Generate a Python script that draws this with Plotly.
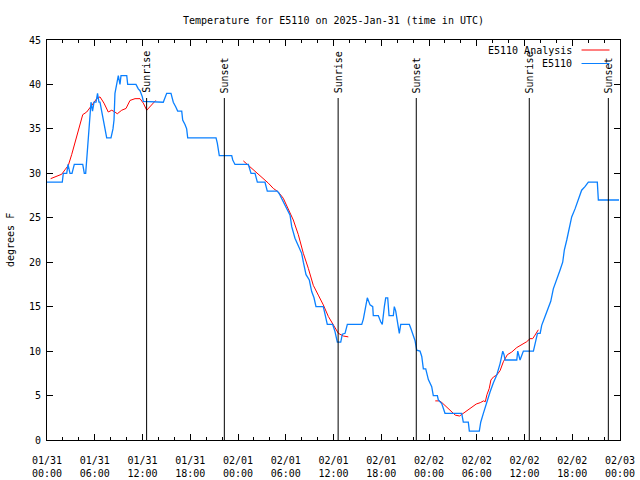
import pandas as pd
import plotly.graph_objects as go

BASE = pd.Timestamp("2025-01-31 00:00")

# E5110 observations (hours since 01/31 00:00 UTC, degrees F)
obs_hours = [0.00, 1.92, 2.05, 2.48, 2.64, 2.89, 3.14, 3.43, 4.49, 4.69, 4.86, 5.03, 5.21, 5.40,
             5.53, 5.72, 5.91, 6.16, 6.35, 6.53, 6.66, 6.87, 7.04, 7.29, 7.50, 8.04, 8.29, 8.42,
             8.54, 8.73, 8.96, 9.17, 9.30, 10.02, 10.14, 10.84, 11.18, 11.47, 11.69, 11.98, 12.10,
             14.61, 15.04, 15.58, 15.87, 16.17, 16.42, 16.93, 17.05, 17.34, 17.55, 17.68, 21.24,
             21.40, 21.65, 23.21, 23.34, 23.62, 25.30, 25.64, 26.14, 26.43, 27.39, 27.68, 28.94,
             29.19, 29.53, 29.91, 30.54, 30.75, 31.16, 31.79, 32.00, 32.21, 32.55, 32.96, 33.26,
             33.55, 33.80, 34.72, 34.93, 35.22, 35.90, 36.19, 36.48, 36.91, 37.11, 37.45, 37.74,
             39.55, 39.75, 39.96, 40.25, 40.59, 40.93, 41.00, 41.63, 41.93, 42.13, 42.39, 42.56,
             42.81, 42.98, 43.52, 43.64, 43.82, 44.07, 44.27, 44.45, 45.53, 45.70, 46.03, 46.24,
             46.46, 46.87, 47.09, 47.29, 47.59, 47.92, 48.34, 48.54, 49.05, 49.17, 49.60, 50.01,
             52.11, 52.31, 52.94, 53.07, 54.32, 54.50, 54.83, 55.25, 55.67, 56.08, 56.51, 56.93,
             57.27, 57.43, 57.56, 59.03, 59.15, 59.44, 59.86, 61.12, 61.34, 61.63, 61.97, 62.16,
             62.58, 63.00, 63.30, 63.62, 64.05, 64.46, 64.80, 65.01, 65.31, 65.63, 65.93, 66.35,
             66.76, 67.18, 67.60, 68.02, 69.15, 69.28, 71.88]
obs_temp = [29, 29, 30, 30, 31, 30, 30, 31, 31, 30, 30, 32, 35, 37,
            38, 37, 38, 38, 39, 38, 38, 37, 36, 35, 34, 34, 35, 36,
            39, 40, 41, 40, 41, 41, 40, 40, 40, 39.5, 39.3, 38.6, 38.1,
            38, 39, 39, 38, 37.5, 37, 37, 36, 35.5, 35, 34, 34,
            33.4, 32, 32, 31.5, 31, 31, 30, 30, 29, 29, 28, 28,
            27.7, 27, 26.4, 25.3, 24, 22.7, 21.4, 21, 20, 18.6, 18, 16.7,
            16, 15, 15, 14.2, 13, 13, 12.2, 11, 11, 11.9, 12, 13,
            13, 13.6, 14.8, 16, 15.2, 15, 14, 14, 13.3, 13, 15, 16,
            16, 14, 14, 15, 14.5, 12.9, 12, 13, 13, 12.6, 11.6, 11.2,
            10.1, 10, 9.4, 8, 8, 6.8, 6, 5, 5, 4.5, 4.1, 3,
            3, 2, 2, 1, 1, 2, 3, 4.3, 5.4, 6.4, 7.3, 8.6,
            10, 9.6, 9, 9, 10, 9, 10, 10, 11, 12, 12, 12.9,
            13.9, 15, 15.6, 17, 18.2, 19.1, 20, 21.4, 22.5, 24, 25.1, 26,
            27.1, 28.1, 28.5, 29, 29, 27, 27]

# E5110 Analysis (three segments, None marks the gaps)
ana_hours = [0.46, 1.01, 1.85, 2.26, 2.68, 3.10, 3.52, 4.06, 4.49, 4.99, 5.49, 5.94, 6.25, 6.66,
             7.16, 7.70, 8.13, 8.54, 8.83, 9.39, 9.93, 10.43, 11.06, 11.69, 12.10, 12.53, 13.16,
             13.66, None,
             24.67, 25.30, 25.92, 26.55, 27.18, 27.81, 28.44, 29.07, 29.69, 30.32, 30.95, 31.58,
             32.21, 32.84, 33.46, 34.09, 34.72, 35.35, 35.98, 36.40, 36.61, 37.03, 37.23, 37.86,
             None,
             48.79, 49.33, 49.63, 50.26, 50.76, 51.30, 51.84, 52.14, 52.77, 53.40, 53.94, 54.44,
             54.86, 55.07, 55.28, 55.57, 55.78, 56.11, 56.51, 56.93, 57.34, 57.85, 58.40, 59.03,
             59.65, 60.28, 60.69, 61.03, 61.32, 61.74]
ana_temp = [29.4, 29.6, 29.9, 30.4, 30.9, 32.1, 33.4, 35.2, 36.6, 36.9, 37.5, 38.1, 38.4, 38.6,
            37.9, 36.9, 37.1, 36.9, 36.7, 37.1, 37.3, 38.2, 38.4, 38.4, 37.9, 37.1, 37.7,
            38.2, None,
            31.4, 30.9, 30.5, 30.0, 29.4, 28.9, 28.3, 27.9, 27.2, 25.9, 24.75, 23.1,
            21.0, 19.3, 17.4, 16.3, 15.2, 13.9, 12.9, 12.4, 12.0, 11.8, 11.7, 11.6,
            None,
            4.4, 4.4, 4.2, 3.7, 3.2, 2.8, 2.7, 2.9, 3.3, 3.75, 4.05, 4.2,
            4.4, 4.3, 5.1, 5.8, 6.75, 7.1, 7.3, 7.8, 8.8, 9.6, 9.9, 10.4,
            10.7, 11.06, 11.4, 11.4, 11.8, 12.4]

sun_times = ["2025-01-31 12:31", "2025-01-31 22:17", "2025-02-01 12:35",
             "2025-02-01 22:24", "2025-02-02 12:36", "2025-02-02 22:32"]
sun_labels = ["Sunrise", "Sunset", "Sunrise", "Sunset", "Sunrise", "Sunset"]

series_names = ["E5110 Analysis", "E5110"]
series_colors = ["#ff0000", "#0a80ff"]

FONT = "DejaVu Sans Mono"


def to_time(hours):
    return [None if h is None else BASE + pd.Timedelta(hours=h) for h in hours]


fig = go.Figure()
fig.add_trace(go.Scatter(x=to_time(ana_hours), y=ana_temp, mode="lines",
                         name=series_names[0], connectgaps=False,
                         line=dict(color=series_colors[0], width=1)))
fig.add_trace(go.Scatter(x=to_time(obs_hours), y=obs_temp, mode="lines",
                         name=series_names[1],
                         line=dict(color=series_colors[1], width=1.3)))

for t, lab in zip(sun_times, sun_labels):
    fig.add_shape(type="line", xref="x", yref="paper", x0=t, x1=t, y0=0, y1=0.855,
                  line=dict(color="black", width=1))
    fig.add_annotation(x=t, xref="x", y=0.862, yref="paper", text=lab, textangle=-90,
                       showarrow=False, xanchor="center", yanchor="bottom",
                       font=dict(family=FONT, size=10, color="black"))

# legend drawn gnuplot-style: text then sample line
for i, (nm, col) in enumerate(zip(series_names, series_colors)):
    yp = 1 - (10 + 13.5 * i) / 400
    fig.add_annotation(x=(574 - 47) / 573.5, xref="paper", y=yp, yref="paper", text=nm,
                       showarrow=False, xanchor="right", yanchor="middle",
                       font=dict(family=FONT, size=10, color="black"))
    fig.add_shape(type="line", xref="paper", yref="paper",
                  x0=(582 - 47) / 573.5, x1=(610 - 47) / 573.5, y0=yp, y1=yp,
                  line=dict(color=col, width=1))

fig.add_annotation(x=(10 - 47) / 573.5, xref="paper", y=0.5, yref="paper", text="degrees F",
                   textangle=-90, showarrow=False, xanchor="center", yanchor="middle",
                   font=dict(family=FONT, size=10, color="black"))

fig.update_layout(
    width=640, height=480,
    margin=dict(l=47, r=19.5, t=40, b=40, autoexpand=False),
    paper_bgcolor="white", plot_bgcolor="white",
    showlegend=False,
    title=dict(text="Temperature for E5110 on 2025-Jan-31 (time in UTC)", x=333.5 / 640,
               xanchor="center", y=1 - 20 / 480, yanchor="middle", automargin=False,
               font=dict(family=FONT, size=10, color="black")),
    font=dict(family=FONT, size=10, color="black"),
)
fig.update_xaxes(
    type="date", range=["2025-01-31 00:00", "2025-02-03 00:00"], automargin=False,
    dtick=6 * 3600 * 1000, tick0="2025-01-31 00:00", tickformat="%m/%d<br>%H:%M",
    ticks="inside", ticklen=6, tickcolor="black", showline=True, linecolor="black",
    linewidth=1, mirror="allticks", showgrid=False, zeroline=False,
    ticklabelstandoff=11,
    minor=dict(dtick=2 * 3600 * 1000, ticks="inside", ticklen=3, tickcolor="black",
               showgrid=False),
    tickfont=dict(family=FONT, size=10, color="black"),
)
fig.update_yaxes(
    range=[0, 45], dtick=5, tick0=0, automargin=False,
    ticks="inside", ticklen=6, tickcolor="black", showline=True, linecolor="black",
    linewidth=1, mirror="allticks", showgrid=False, zeroline=False,
    ticklabelstandoff=3,
    tickfont=dict(family=FONT, size=10, color="black"),
)

fig.write_html("out.html", config={"displayModeBar": False, "staticPlot": True},
               post_script="document.body.style.margin='0px';")
